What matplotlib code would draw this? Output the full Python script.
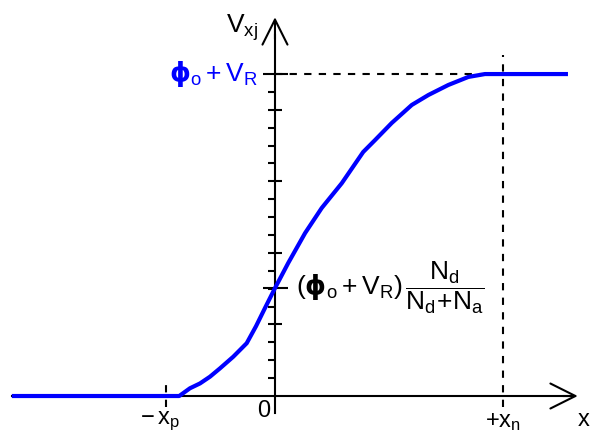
import matplotlib
matplotlib.use('Agg')
import matplotlib.pyplot as plt
import numpy as np

plt.rcParams['mathtext.fontset'] = 'custom'
plt.rcParams['mathtext.rm'] = 'Liberation Sans'
plt.rcParams['mathtext.it'] = 'Liberation Sans'
plt.rcParams['mathtext.bf'] = 'DejaVu Sans:bold'
plt.rcParams['mathtext.default'] = 'regular'
plt.rcParams['font.family'] = ['Liberation Sans', 'DejaVu Sans']

# position across the junction (units of x_n) and potential (units of phi_o + V_R)
x_pos = [-1.154, -0.420, -0.373, -0.329, -0.285, -0.241, -0.183, -0.124, -0.083,
         -0.044, 0.0, 0.058, 0.132, 0.205, 0.293, 0.387, 0.439, 0.512, 0.600,
         0.673, 0.760, 0.848, 0.921, 1.285]
v_pot = [0.0, 0.0, 0.024, 0.039, 0.060, 0.086, 0.122, 0.164, 0.217,
         0.273, 0.335, 0.413, 0.506, 0.584, 0.661, 0.758, 0.795, 0.848, 0.904,
         0.935, 0.966, 0.991, 1.0, 1.0]

x_p = 0.48
x_n = 1.0
v_top = 1.0
v_mid = 0.335

fig = plt.figure(figsize=(5.91, 4.34), dpi=100)
ax = fig.add_axes([0, 0, 1, 1])
ax.set_xlim(-1.206, 1.386)
ax.set_ylim(-0.118, 1.230)
ax.axis('off')

# axes with open arrow heads
ax.plot([-1.154, 1.3], [0, 0], color='black', lw=1.5)
ax.plot([0, 0], [-0.053, 1.12], color='black', lw=1.5)
ax.annotate('', xy=(1.34, 0), xytext=(1.25, 0),
            arrowprops=dict(arrowstyle='->,head_length=0.6,head_width=0.3',
                            color='black', lw=1.5, mutation_scale=30))
ax.annotate('', xy=(0, 1.185), xytext=(0, 1.10),
            arrowprops=dict(arrowstyle='->,head_length=0.6,head_width=0.3',
                            color='black', lw=1.5, mutation_scale=30))

# tick marks along the potential axis
ticks = np.arange(1, 18) / 18
minor = [t for i, t in enumerate(ticks, 1) if i % 4]
medium = [t for i, t in enumerate(ticks, 1) if i % 4 == 0]
ax.plot([0] * len(minor), minor, ls='none', marker=0, ms=5, mew=1.5, color='black')
ax.plot([0] * len(medium), medium, ls='none', marker='_', ms=10, mew=1.5, color='black')
ax.plot([0, 0], [v_top, v_mid], ls='none', marker='_', ms=18, mew=1.5, color='black')

# dashed guides
dash = dict(color='black', lw=1.5, dashes=(3.5, 3.5))
ax.plot([0, x_n], [v_top, v_top], **dash)
ax.plot([x_n, x_n], [-0.034, 1.059], **dash)
ax.plot([-x_p, -x_p], [-0.034, 0.056], **dash)

# potential profile
ax.plot(x_pos, v_pot, color='#0000ff', lw=3, solid_capstyle='butt',
        solid_joinstyle='round', zorder=3)

# labels
ax.text(-0.075, 1.145, r'$V_{xj}$', fontsize=19, ha='right', va='center')
ax.text(-0.075, v_top, r'$\mathbf{ϕ}_o + V_R$', fontsize=19, color='#0000ff',
        ha='right', va='center')
ax.text(0.09, v_mid, r'$(\mathbf{ϕ}_o + V_R)\,\dfrac{N_d}{N_d\!+\!N_a}$',
        fontsize=19, ha='left', va='center')
ax.text(-0.048, -0.048, '0', fontsize=17, ha='center', va='center')
ax.text(-0.505, -0.08, r'$-\,x_p$', fontsize=17, ha='center', va='center')
ax.text(x_n, -0.08, r'$+x_n$', fontsize=17, ha='center', va='center')
# axis name at the lower right corner
fig.text(0.998, 0.032, 'x', fontsize=17, ha='right', va='center')

fig.savefig('out.png', dpi=100)
